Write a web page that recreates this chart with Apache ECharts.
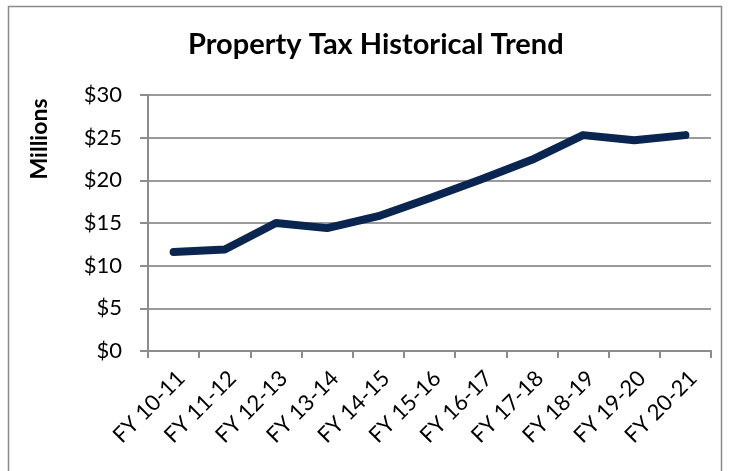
<!DOCTYPE html>
<html><head><meta charset="utf-8">
<script src="https://cdn.jsdelivr.net/npm/echarts@6/dist/echarts.min.js"></script>
<style>html,body{margin:0;padding:0;background:#fff}#c{width:731px;height:471px}</style>
</head><body><div id="c"></div>
<script>
const categories = ['FY 10-11','FY 11-12','FY 12-13','FY 13-14','FY 14-15','FY 15-16','FY 16-17','FY 17-18','FY 18-19','FY 19-20','FY 20-21'];
const values = [11.6, 11.9, 15.0, 14.4, 15.8, 17.9, 20.1, 22.4, 25.3, 24.7, 25.3];
const yTicks = [0, 5, 10, 15, 20, 25, 30];
const chart = echarts.init(document.getElementById('c'));
const F = 'Lato, "Open Sans", sans-serif';
chart.setOption({
  animation: false,
  title: { text: 'Property Tax Historical Trend', left: 188, top: 30, padding: 0,
    textStyle: { fontFamily: F, fontWeight: 'bold', fontSize: 29, color: '#000' } },
  graphic: [
    { type: 'rect', shape: { x: 8.5, y: 6.5, width: 713, height: 480 }, style: { fill: 'none', stroke: '#8a8a8a', lineWidth: 1.5 } },
    { type: 'text', x: 40, y: 139, rotation: Math.PI / 2, style: { text: 'Millions', fontFamily: F, fontWeight: 'bold', fontSize: 23, fill: '#000', align: 'center', verticalAlign: 'middle' } }
  ],
  grid: { left: 148, right: 20, top: 95, bottom: 120 },
  xAxis: {
    type: 'category', data: categories, boundaryGap: true,
    axisLine: { lineStyle: { color: '#8c8c8c', width: 2 } },
    axisTick: { show: true, length: 7, inside: false, alignWithLabel: false, lineStyle: { color: '#8c8c8c', width: 2 } },
    axisLabel: { rotate: 45, fontFamily: F, fontSize: 22, color: '#000', margin: 16, interval: 0, verticalAlign: 'top' }
  },
  yAxis: {
    type: 'value', min: 0, max: 30, interval: 5,
    axisLine: { show: true, lineStyle: { color: '#8c8c8c', width: 2 } },
    axisTick: { show: true, length: 8, lineStyle: { color: '#8c8c8c', width: 2 } },
    splitLine: { lineStyle: { color: '#9a9a9a', width: 2 } },
    axisLabel: { fontFamily: F, fontSize: 22, color: '#000', margin: 26,
      customValues: yTicks, formatter: v => '$' + v }
  },
  series: [{
    type: 'line', data: values, symbol: 'none', smooth: false,
    lineStyle: { color: '#0a2550', width: 8, cap: 'round', join: 'round' }
  }]
});
</script></body></html>
